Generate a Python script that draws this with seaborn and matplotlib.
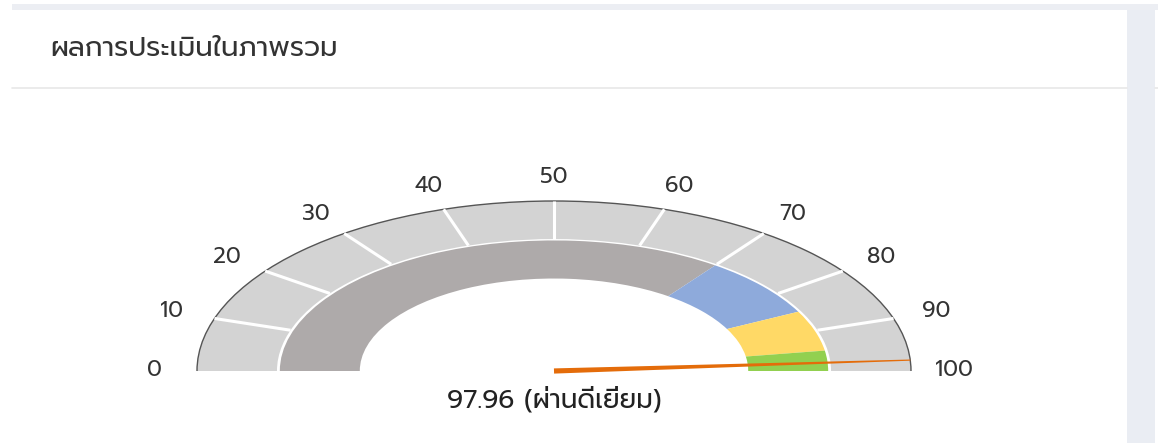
import numpy as np
import matplotlib
matplotlib.use("Agg")
import matplotlib.pyplot as plt
from matplotlib.patches import Wedge, Rectangle, Polygon, Arc
import seaborn as sns

# data
title = "ผลการประเมินในภาพรวม"
score = 97.96
grade = "ผ่านดีเยี่ยม"
tick_values = [0, 10, 20, 30, 40, 50, 60, 70, 80, 90, 100]
band_edges = [0, 70, 85, 95, 100]
band_colors = ["#aeaaaa", "#8eaadb", "#ffd966", "#92d050"]

sns.set_theme(style="white")
plt.rcParams["font.family"] = ["Prompt", "DejaVu Sans"]

W, H = 1158, 443
fig = plt.figure(figsize=(W / 100, H / 100), dpi=100)

# page / card background in pixel coords
bg = fig.add_axes([0, 0, 1, 1])
bg.set_xlim(0, W)
bg.set_ylim(H, 0)
bg.axis("off")
bg.add_patch(Rectangle((12, 4), W - 12, 6, color="#eceef3", lw=0))
bg.add_patch(Rectangle((1127, 10), 28, H - 10, color="#eaedf3", lw=0))
bg.plot([12, 1127], [88, 88], color="#e8e8e8", lw=1.2)
bg.plot([1155, W], [88, 88], color="#e8e8e8", lw=1.2)
bg.text(50, 48, title, fontsize=20, color="#333333", va="center", ha="left")

# gauge: centre at (554, 371) px, radius 357 px wide, 170 px tall
cx, cy, sx, sy = 554, 371, 357, 170
xl, yl = (-1.3, 1.3), (-0.45, 1.3)
ax = fig.add_axes([(cx + xl[0] * sx) / W, (H - cy + yl[0] * sy) / H,
                   (xl[1] - xl[0]) * sx / W, (yl[1] - yl[0]) * sy / H])
ax.set_xlim(*xl)
ax.set_ylim(*yl)
ax.axis("off")


def ang(v):
    return 180.0 * (1 - v / 100.0)


# outer scale band
ax.add_patch(Wedge((0, 0), 1.0, 0, 180, width=0.224, facecolor="#d3d3d3", edgecolor="none"))
ax.add_patch(Arc((0, 0), 2.0, 2.0, theta1=0, theta2=180, color="#555555", lw=1.0))
for v in tick_values[1:-1]:
    a = np.radians(ang(v))
    ax.plot([0.776 * np.cos(a), 1.0 * np.cos(a)], [0.776 * np.sin(a), 1.0 * np.sin(a)],
            color="white", lw=2.2, solid_capstyle="butt")
for v in tick_values:
    a = np.radians(ang(v))
    r = 1.12 + 0.02 * np.sin(a)
    ax.text(r * np.cos(a), r * np.sin(a), str(v), ha="center", va="center",
            fontsize=16, color="#333333")

# coloured bands
for lo, hi, c in zip(band_edges[:-1], band_edges[1:], band_colors):
    ax.add_patch(Wedge((0, 0), 0.768, ang(hi), ang(lo), width=0.224, facecolor=c, edgecolor="none"))

# needle
a = np.radians(ang(score))
tip = np.array([np.cos(a), np.sin(a)])
u = np.array([tip[0] * sx, tip[1] * sy])
u = u / np.hypot(*u)
perp = np.array([-u[1] / sx, u[0] / sy])
base_w, tip_w = 2.6, 0.6
needle = Polygon([perp * base_w, tip + perp * tip_w, tip - perp * tip_w, -perp * base_w],
                 closed=True, facecolor="#e46c0a", edgecolor="none")
ax.add_patch(needle)

ax.text(0, -0.17, f"{score:.2f} ({grade})", ha="center", va="center", fontsize=19, color="#222222")

fig.savefig("out.png", dpi=100)
